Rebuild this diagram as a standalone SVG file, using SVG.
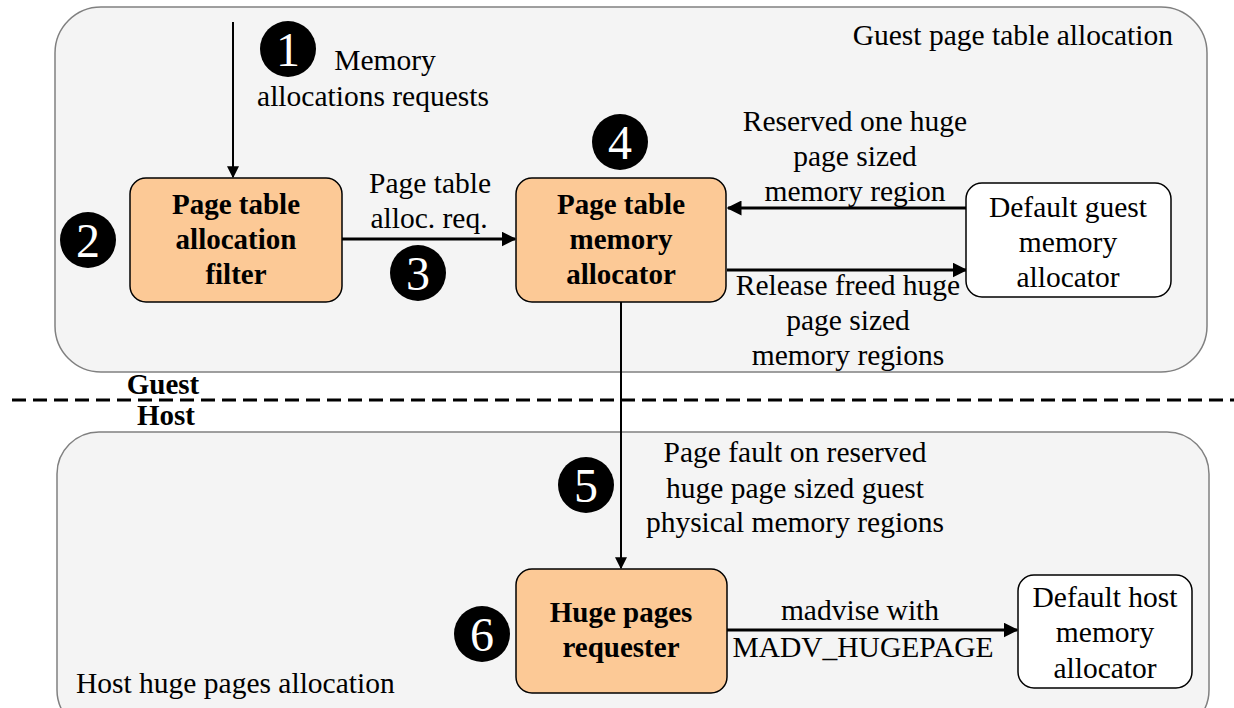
<svg xmlns="http://www.w3.org/2000/svg" width="1234" height="708" viewBox="0 0 1234 708">
<defs>
<style>
.t{font-family:"Liberation Serif","Times New Roman",serif;font-size:29.5px;fill:#000;text-anchor:middle}
.b{font-weight:bold;font-size:29px}
.box{fill:#fcc996;stroke:#000;stroke-width:1.5}
.wbox{fill:#fff;stroke:#000;stroke-width:1.5}
.cont{fill:#f4f4f4;stroke:#808080;stroke-width:1.5}
.num{font-family:"Liberation Serif","Times New Roman",serif;font-size:48px;fill:#fff;text-anchor:middle}
.c{stroke:#000;fill:none}
</style>
<marker id="ah" viewBox="0 0 10 10" refX="9" refY="5" markerWidth="5" markerHeight="5" markerUnits="strokeWidth" orient="auto"><path d="M0,0 L10,5 L0,10 z" fill="#000"/></marker>
<marker id="ah2" viewBox="0 0 10 10" refX="9" refY="5" markerWidth="6" markerHeight="6" markerUnits="strokeWidth" orient="auto"><path d="M0,0 L10,5 L0,10 z" fill="#000"/></marker>
</defs>

<g id="guest-container">
<rect class="cont" x="55" y="7" width="1152" height="365" rx="46"/>
<text class="t" x="1173" y="45" style="text-anchor:end">Guest page table allocation</text>
</g>
<g id="host-container">
<rect class="cont" x="57" y="432" width="1152" height="300" rx="42"/>
<text class="t" x="76" y="693" style="text-anchor:start">Host huge pages allocation</text>
</g>

<g id="divider">
<line x1="12" y1="400" x2="1234" y2="400" stroke="#000" stroke-width="3" stroke-dasharray="14 7"/>
<text class="t b" x="163" y="394">Guest</text>
<text class="t b" x="166" y="425">Host</text>
</g>

<g id="connectors">
<line class="c" x1="233" y1="22" x2="233" y2="177" stroke-width="2" marker-end="url(#ah2)"/>
<line class="c" x1="342" y1="239" x2="515" y2="239" stroke-width="3" marker-end="url(#ah)"/>
<line class="c" x1="966" y1="208" x2="728" y2="208" stroke-width="3" marker-end="url(#ah)"/>
<line class="c" x1="727" y1="270" x2="966" y2="270" stroke-width="3" marker-end="url(#ah)"/>
<line class="c" x1="621" y1="302" x2="621" y2="568" stroke-width="2" marker-end="url(#ah2)"/>
<line class="c" x1="727" y1="630" x2="1017" y2="630" stroke-width="3" marker-end="url(#ah)"/>
<text class="t" x="385" y="70">Memory</text>
<text class="t" x="373" y="106">allocations requests</text>
<text class="t" x="430" y="193">Page table</text>
<text class="t" x="429" y="228">alloc. req.</text>
<text class="t" x="855" y="131">Reserved one huge</text>
<text class="t" x="855" y="166">page sized</text>
<text class="t" x="855" y="201">memory region</text>
<text class="t" x="848" y="295">Release freed huge</text>
<text class="t" x="848" y="330">page sized</text>
<text class="t" x="848" y="365">memory regions</text>
<text class="t" x="795" y="462">Page fault on reserved</text>
<text class="t" x="795" y="498">huge page sized guest</text>
<text class="t" x="795" y="532">physical memory regions</text>
<text class="t" x="860" y="620">madvise with</text>
<text class="t" x="863" y="657">MADV_HUGEPAGE</text>
</g>

<g id="node-filter">
<rect class="box" x="130" y="178" width="212" height="124" rx="16"/>
<text class="t b" x="236" y="214">Page table</text>
<text class="t b" x="236" y="249">allocation</text>
<text class="t b" x="236" y="284">filter</text>
</g>
<g id="node-ptalloc">
<rect class="box" x="516" y="178" width="210" height="124" rx="16"/>
<text class="t b" x="621" y="214">Page table</text>
<text class="t b" x="621" y="249">memory</text>
<text class="t b" x="621" y="284">allocator</text>
</g>
<g id="node-guestalloc">
<rect class="wbox" x="966" y="183" width="205" height="114" rx="16"/>
<text class="t" x="1068" y="217">Default guest</text>
<text class="t" x="1068" y="252">memory</text>
<text class="t" x="1068" y="287">allocator</text>
</g>
<g id="node-requester">
<rect class="box" x="516" y="569" width="211" height="124" rx="16"/>
<text class="t b" x="621" y="622">Huge pages</text>
<text class="t b" x="621" y="657">requester</text>
</g>
<g id="node-hostalloc">
<rect class="wbox" x="1018" y="575" width="174" height="113" rx="16"/>
<text class="t" x="1105" y="607">Default host</text>
<text class="t" x="1105" y="642">memory</text>
<text class="t" x="1105" y="678">allocator</text>
</g>

<g id="step-1"><circle cx="288" cy="49" r="28"/><text class="num" x="288" y="66">1</text></g>
<g id="step-2"><circle cx="88" cy="240" r="28"/><text class="num" x="88" y="257">2</text></g>
<g id="step-3"><circle cx="418" cy="273" r="28"/><text class="num" x="418" y="290">3</text></g>
<g id="step-4"><circle cx="620" cy="142" r="28"/><text class="num" x="620" y="159">4</text></g>
<g id="step-5"><circle cx="586" cy="485" r="28"/><text class="num" x="586" y="502">5</text></g>
<g id="step-6"><circle cx="482" cy="634" r="28"/><text class="num" x="482" y="651">6</text></g>
</svg>
